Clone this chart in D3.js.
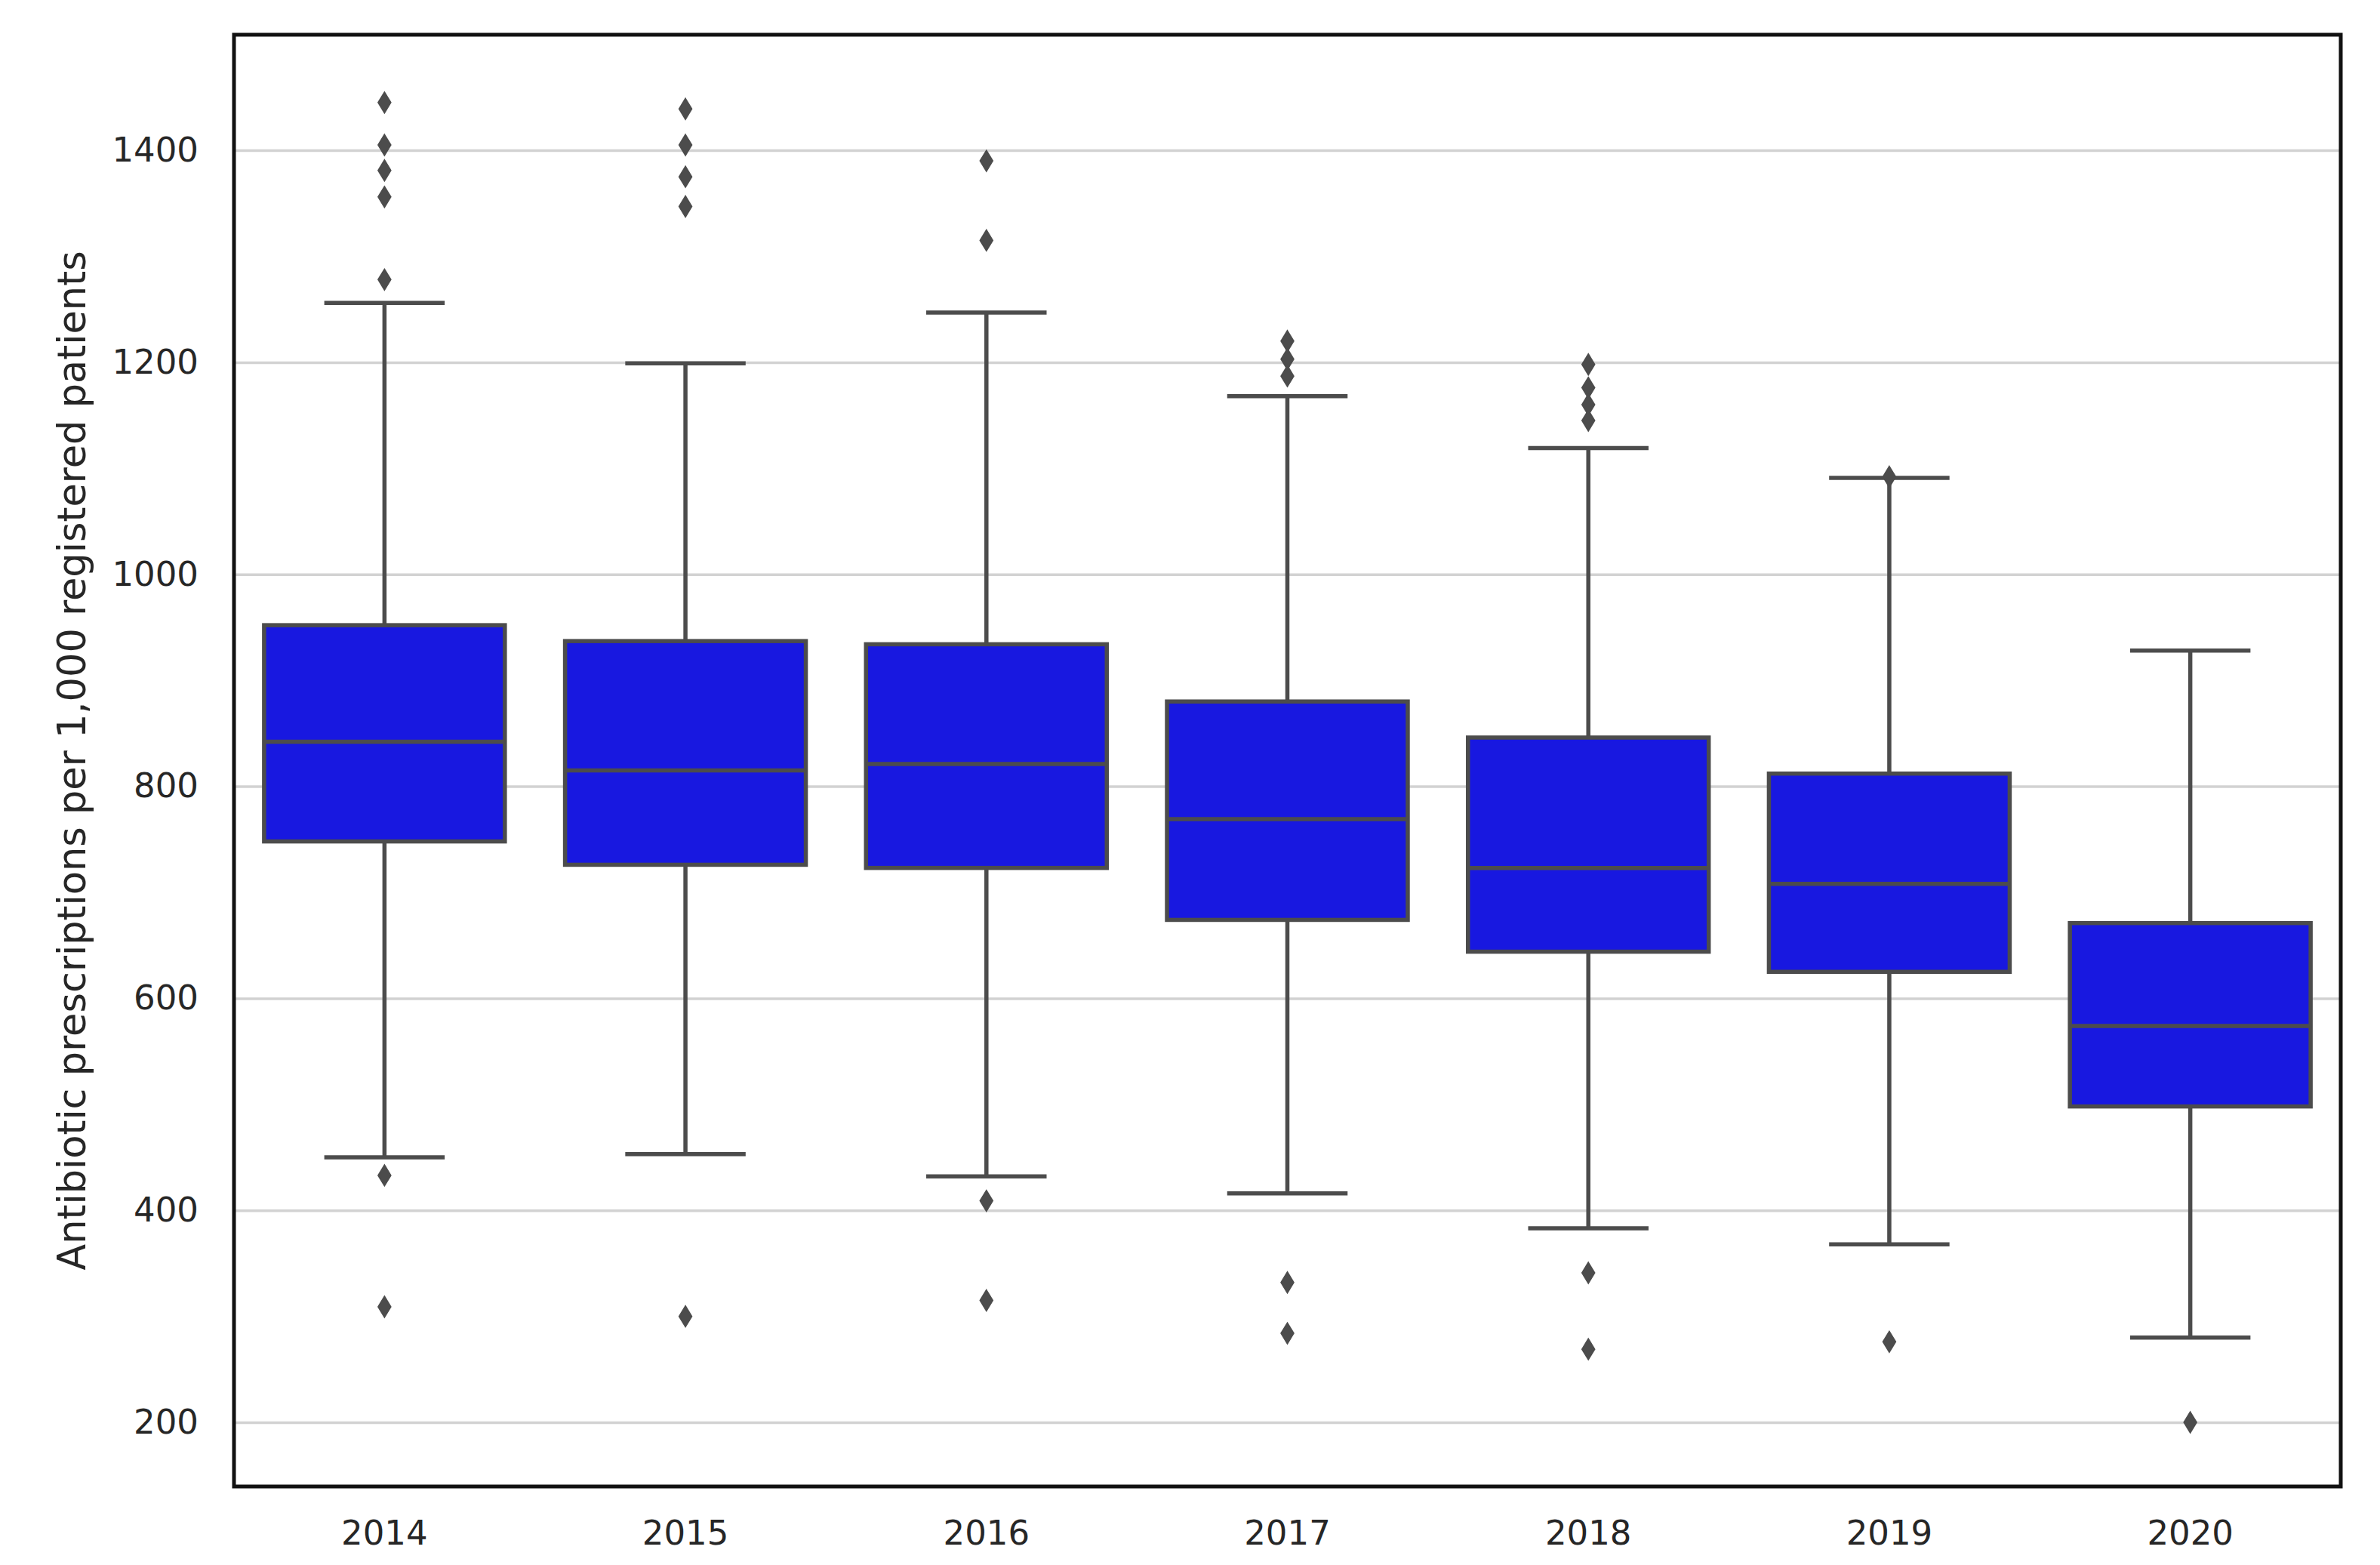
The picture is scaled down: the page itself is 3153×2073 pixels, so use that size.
<!DOCTYPE html>
<html>
<head>
<meta charset="utf-8">
<script src="https://cdn.jsdelivr.net/npm/d3@7"></script>
<style>
  body { margin: 0; background: #fff; }
  text { font-family: "DejaVu Sans", sans-serif; fill: #262626; }
</style>
</head>
<body>
<div class="chart"></div>
<script>
// data
var years = ["2014", "2015", "2016", "2017", "2018", "2019", "2020"];
var whiskerLow  = [450, 453, 432, 416, 383, 368, 280];
var q1          = [748, 726, 723, 674, 644, 625, 498];
var medians     = [842, 815, 821, 769, 723, 708, 574];
var q3          = [952, 937, 934, 880, 846, 812, 671];
var whiskerHigh = [1256, 1199, 1247, 1168, 1119, 1091, 928];
var outliers = [
  [1445, 1405, 1381, 1356, 1278, 433, 309],
  [1439, 1405, 1375, 1347, 300],
  [1390, 1315, 409, 315],
  [1220, 1203, 1187, 332, 284],
  [1198, 1176, 1160, 1145, 341, 269],
  [1092, 276],
  [200]
];
var yTicks = [200, 400, 600, 800, 1000, 1200, 1400];
var yLabel = "Antibiotic prescriptions per 1,000 registered patients";

var svgWidth = 3153;
var svgHeight = 2073;
var margin = { top: 46, right: 52, bottom: 104, left: 310 };
var width = svgWidth - margin.left - margin.right;
var height = svgHeight - margin.top - margin.bottom;

var boxFill = "#1818e0";
var lineColor = "#4c4c4c";
var lineWidth = 5.5;

var svg = d3.select(".chart")
  .append("svg")
  .attr("width", svgWidth)
  .attr("height", svgHeight);

var chartGroup = svg.append("g")
  .attr("transform", `translate(${margin.left}, ${margin.top})`);

var x = d3.scaleBand().domain(years).range([0, width]).padding(0);
var y = d3.scaleLinear().domain([139.5, 1509]).range([height, 0]);

var boxW = x.bandwidth() * 0.8;
var capW = boxW / 2;

// horizontal grid
chartGroup.append("g")
  .attr("class", "grid")
  .call(d3.axisLeft(y).tickValues(yTicks).tickSize(-width).tickFormat(""))
  .call(g => g.select(".domain").remove())
  .call(g => g.selectAll("line").attr("stroke", "#d2d2d2").attr("stroke-width", 3.5));

// axes
chartGroup.append("g")
  .call(d3.axisLeft(y).tickValues(yTicks).tickSize(0).tickPadding(47).tickFormat(d3.format("d")))
  .call(g => g.select(".domain").remove())
  .call(g => g.selectAll("text").attr("font-size", 45).attr("fill", "#262626"));

chartGroup.append("g")
  .attr("transform", `translate(0, ${height})`)
  .call(d3.axisBottom(x).tickSize(0).tickPadding(45))
  .call(g => g.select(".domain").remove())
  .call(g => g.selectAll("text").attr("font-size", 45).attr("fill", "#262626"));

svg.append("text")
  .attr("transform", `translate(95, ${margin.top + height / 2}) rotate(-90)`)
  .attr("text-anchor", "middle")
  .attr("dominant-baseline", "central")
  .attr("font-size", 51)
  .text(yLabel);

var boxes = chartGroup.selectAll(".box")
  .data(years)
  .enter()
  .append("g")
  .attr("class", "box")
  .attr("transform", d => `translate(${x(d) + x.bandwidth() / 2}, 0)`);

// whiskers
boxes.append("line")
  .attr("y1", (d, i) => y(whiskerLow[i])).attr("y2", (d, i) => y(q1[i]))
  .attr("stroke", lineColor).attr("stroke-width", lineWidth);
boxes.append("line")
  .attr("y1", (d, i) => y(q3[i])).attr("y2", (d, i) => y(whiskerHigh[i]))
  .attr("stroke", lineColor).attr("stroke-width", lineWidth);

// caps
boxes.append("line")
  .attr("x1", -capW / 2).attr("x2", capW / 2)
  .attr("y1", (d, i) => y(whiskerLow[i])).attr("y2", (d, i) => y(whiskerLow[i]))
  .attr("stroke", lineColor).attr("stroke-width", lineWidth);
boxes.append("line")
  .attr("x1", -capW / 2).attr("x2", capW / 2)
  .attr("y1", (d, i) => y(whiskerHigh[i])).attr("y2", (d, i) => y(whiskerHigh[i]))
  .attr("stroke", lineColor).attr("stroke-width", lineWidth);

// box
boxes.append("rect")
  .attr("x", -boxW / 2)
  .attr("width", boxW)
  .attr("y", (d, i) => y(q3[i]))
  .attr("height", (d, i) => y(q1[i]) - y(q3[i]))
  .attr("fill", boxFill)
  .attr("stroke", lineColor)
  .attr("stroke-width", lineWidth);

// median
boxes.append("line")
  .attr("x1", -boxW / 2).attr("x2", boxW / 2)
  .attr("y1", (d, i) => y(medians[i])).attr("y2", (d, i) => y(medians[i]))
  .attr("stroke", lineColor).attr("stroke-width", lineWidth);

// fliers, thin diamonds
var dh = 14, dw = 8.5;
boxes.each(function(d, i) {
  d3.select(this).selectAll(".flier")
    .data(outliers[i])
    .enter()
    .append("path")
    .attr("class", "flier")
    .attr("d", `M0,${-dh}L${dw},0L0,${dh}L${-dw},0Z`)
    .attr("transform", v => `translate(0, ${y(v)})`)
    .attr("fill", lineColor)
    .attr("stroke", lineColor)
    .attr("stroke-width", 1.5);
});

// frame
chartGroup.append("rect")
  .attr("width", width)
  .attr("height", height)
  .attr("fill", "none")
  .attr("stroke", "#111")
  .attr("stroke-width", 5);
</script>
</body>
</html>
